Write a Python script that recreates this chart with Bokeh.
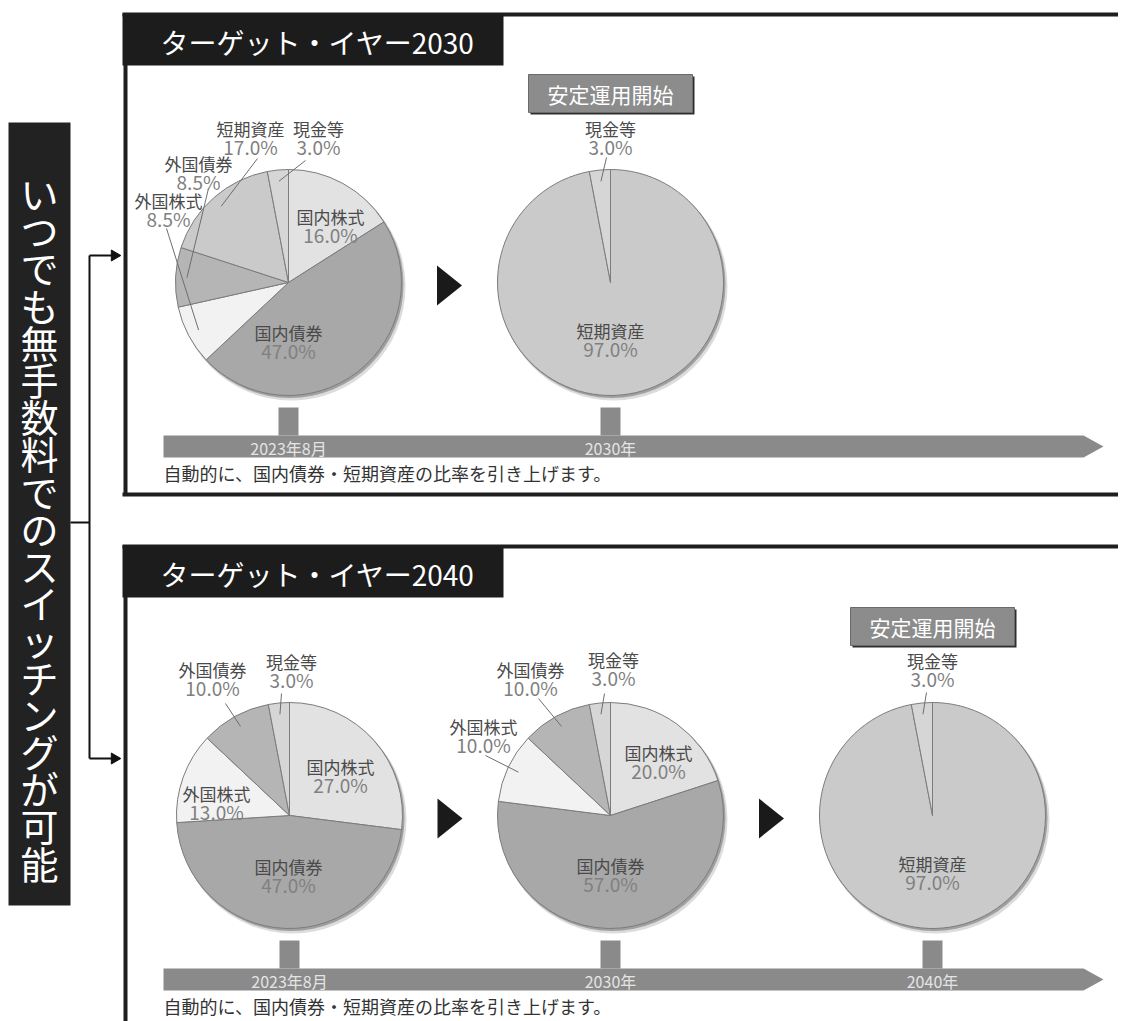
import math
from bokeh.plotting import figure
from bokeh.models import Range1d, ColumnDataSource
from bokeh.core.properties import value
from bokeh.embed import file_html
from bokeh.resources import INLINE

# ---------------- data ----------------
title_2030 = "ターゲット・イヤー2030"
title_2040 = "ターゲット・イヤー2040"
side_label = "いつでも無手数料でのスイッチングが可能"
note_text = "自動的に、国内債券・短期資産の比率を引き上げます。"
badge_text = "安定運用開始"

assets_2030_2023 = ["国内株式", "国内債券", "外国株式", "外国債券", "短期資産", "現金等"]
weights_2030_2023 = [16.0, 47.0, 8.5, 8.5, 17.0, 3.0]
assets_2030_2030 = ["短期資産", "現金等"]
weights_2030_2030 = [97.0, 3.0]

assets_2040_2023 = ["国内株式", "国内債券", "外国株式", "外国債券", "現金等"]
weights_2040_2023 = [27.0, 47.0, 13.0, 10.0, 3.0]
assets_2040_2030 = ["国内株式", "国内債券", "外国株式", "外国債券", "現金等"]
weights_2040_2030 = [20.0, 57.0, 10.0, 10.0, 3.0]
assets_2040_2040 = ["短期資産", "現金等"]
weights_2040_2040 = [97.0, 3.0]

timeline_2030 = ["2023年8月", "2030年"]
timeline_2040 = ["2023年8月", "2030年", "2040年"]

# ---------------- styles / layout ----------------
FONT = value("Noto Sans CJK JP")
ASSET_COLORS = {
    "国内株式": "#e2e2e2",
    "国内債券": "#a8a8a8",
    "外国株式": "#f2f2f2",
    "外国債券": "#b5b5b5",
    "短期資産": "#cacaca",
    "現金等": "#d6d6d6",
}
R = 113
W, H = 1118, 1021


def Y(v):
    return 1021 - v


p = figure(width=W, height=H, x_range=Range1d(0, W), y_range=Range1d(1021 - H, 1021),
           output_backend="svg", toolbar_location=None, x_axis_type=None, y_axis_type=None,
           min_border=0, min_border_left=0, min_border_right=0, min_border_top=0, min_border_bottom=0)
p.outline_line_color = None
p.xgrid.visible = False
p.ygrid.visible = False
p.background_fill_color = "white"
p.border_fill_color = "white"

sections = [
    dict(top=14, bottom=494, title=title_2030, cy=282,
         pies=[dict(cx=288, assets=assets_2030_2023, weights=weights_2030_2023,
                    labels={"国内株式": (42, -66), "国内債券": (0, 50), "短期資産": (-38, -154),
                            "現金等": (30, -154), "外国債券": (-90, -119), "外国株式": (-120, -82)},
                    leaders={"現金等": (17, -122), "短期資産": (-31, -124), "外国債券": (-80, -94),
                             "外国株式": (-122, -54)}),
               dict(cx=610, assets=assets_2030_2030, weights=weights_2030_2030,
                    labels={"現金等": (0, -154), "短期資産": (0, 48)},
                    leaders={"現金等": (-4, -125)}, badge=True)],
         timeline=timeline_2030),
    dict(top=546, bottom=None, title=title_2040, cy=815,
         pies=[dict(cx=289, assets=assets_2040_2023, weights=weights_2040_2023,
                    labels={"外国債券": (-77, -146), "現金等": (2, -154), "国内株式": (51, -49),
                            "外国株式": (-73, -22), "国内債券": (-1, 51)},
                    leaders={"現金等": (-8, -122), "外国債券": (-64, -112)}),
               dict(cx=610, assets=assets_2040_2030, weights=weights_2040_2030,
                    labels={"外国債券": (-80, -146), "現金等": (3, -156), "外国株式": (-127, -89),
                            "国内株式": (48, -63), "国内債券": (0, 50)},
                    leaders={"現金等": (-6, -122), "外国債券": (-72, -117), "外国株式": (-125, -60)}),
               dict(cx=932, assets=assets_2040_2040, weights=weights_2040_2040,
                    labels={"現金等": (0, -155), "短期資産": (0, 48)},
                    leaders={"現金等": (-6, -123)}, badge=True)],
         timeline=timeline_2040),
]

FRAME = "#1e1e1e"

# ---------------- sidebar ----------------
p.quad(left=8, right=70, top=Y(122), bottom=Y(905), fill_color="#222222", line_color=None)
chars = list(side_label)
p.text(x=[39] * len(chars), y=[Y(192 + i * 37.2) for i in range(len(chars))], text=chars,
       text_font=FONT, text_font_size="38px", text_color="white",
       text_align="center", text_baseline="middle")

# bracket
p.segment(x0=[70, 89, 89, 89], y0=[Y(522), Y(255), Y(255), Y(758)],
          x1=[89, 89, 112, 112], y1=[Y(522), Y(758), Y(255), Y(758)], line_color="#111", line_width=2)
p.scatter(x=[114, 114], y=[Y(255), Y(758)], marker="triangle", size=11, angle=-math.pi / 2,
          fill_color="#111", line_color="#111")

for sec in sections:
    top = sec["top"]
    cy = sec["cy"]
    # frame lines
    bottom_img = sec["bottom"] if sec["bottom"] is not None else 1030
    p.segment(x0=[122, 125], y0=[Y(top), Y(top)], x1=[1130, 125], y1=[Y(top), Y(bottom_img)],
              line_color=FRAME, line_width=4)
    if sec["bottom"] is not None:
        p.segment(x0=[122], y0=[Y(sec["bottom"])], x1=[1130], y1=[Y(sec["bottom"])],
                  line_color=FRAME, line_width=4)
    # header box
    p.quad(left=122, right=503, top=Y(top - 1), bottom=Y(top + 51), fill_color="#1c1c1c", line_color=None)
    p.text(x=[160], y=[Y(top + 27)], text=[sec["title"]], text_font=FONT, text_font_size="28px",
           text_color="white", text_align="left", text_baseline="middle")

    pies = sec["pies"]
    # arrows between pies
    for a, b in zip(pies[:-1], pies[1:]):
        xm = (a["cx"] + R + b["cx"] - R) / 2
        p.patch(x=[xm - 12.5, xm - 12.5, xm + 12.5], y=[Y(cy - 17), Y(cy + 23), Y(cy + 3)],
                fill_color="#1a1a1a", line_color=None)

    # timeline bar
    bt, bb = cy + 153, cy + 175
    p.patch(x=[163, 1083, 1103, 1083, 163], y=[Y(bt), Y(bt), Y((bt + bb) / 2), Y(bb), Y(bb)],
            fill_color="#8a8a8a", line_color=None)
    for pie, lab in zip(pies, sec["timeline"]):
        p.quad(left=pie["cx"] - 10, right=pie["cx"] + 10, top=Y(cy + 125), bottom=Y(bt),
               fill_color="#8a8a8a", line_color=None)
        p.text(x=[pie["cx"]], y=[Y((bt + bb) / 2 + 1)], text=[lab], text_font=FONT,
               text_font_size="16px", text_color="#e4e4e4", text_align="center", text_baseline="middle")
    p.text(x=[163], y=[Y(bb + 15)], text=[note_text], text_font=FONT, text_font_size="18px",
           text_color="#333333", text_align="left", text_baseline="middle")

    for pie in pies:
        cx = pie["cx"]
        total = sum(pie["weights"])
        cum = 0.0
        starts, ends, cols, mids = [], [], [], {}
        for a, w in zip(pie["assets"], pie["weights"]):
            f0 = cum / total
            cum += w
            f1 = cum / total
            starts.append(math.pi / 2 - 2 * math.pi * f1)
            ends.append(math.pi / 2 - 2 * math.pi * f0)
            cols.append(ASSET_COLORS[a])
            mids[a] = (f0 + f1) / 2
        # shadow
        p.circle(x=cx + 3, y=Y(cy + 4), radius=R + 1, fill_color="#9a9a9a", fill_alpha=0.35, line_color=None)
        p.circle(x=cx + 1.5, y=Y(cy + 2), radius=R + 0.5, fill_color="#707070", fill_alpha=0.55, line_color=None)
        src = ColumnDataSource(dict(start=starts, end=ends, color=cols))
        p.wedge(x=cx, y=Y(cy), radius=R, start_angle="start", end_angle="end", fill_color="color",
                line_color="#7c7c7c", line_width=1, source=src)
        # leaders
        x0s, y0s, x1s, y1s = [], [], [], []
        for a, (lx, ly) in pie["leaders"].items():
            th = 2 * math.pi * mids[a]
            x0s.append(cx + 0.9 * R * math.sin(th))
            y0s.append(Y(cy - 0.9 * R * math.cos(th)))
            x1s.append(cx + lx)
            y1s.append(Y(cy + ly))
        p.segment(x0=x0s, y0=y0s, x1=x1s, y1=y1s, line_color="#6e6e6e", line_width=1)
        # labels
        nx, ny, nt, px_, py_, pt = [], [], [], [], [], []
        for a, w in zip(pie["assets"], pie["weights"]):
            dx, dy = pie["labels"][a]
            nx.append(cx + dx); ny.append(Y(cy + dy)); nt.append(a)
            px_.append(cx + dx); py_.append(Y(cy + dy + 18)); pt.append(f"{w:.1f}%")
        p.text(x=nx, y=ny, text=nt, text_font=FONT, text_font_size="17px", text_color="#4a4a4a",
               text_align="center", text_baseline="middle")
        p.text(x=px_, y=py_, text=pt, text_font=FONT, text_font_size="19px", text_color="#808080",
               text_align="center", text_baseline="middle")
        if pie.get("badge"):
            bcy = cy - 189
            p.quad(left=cx - 80, right=cx + 84, top=Y(bcy - 17), bottom=Y(bcy + 21),
                   fill_color="#2e2e2e", line_color=None)
            p.quad(left=cx - 82, right=cx + 82, top=Y(bcy - 19), bottom=Y(bcy + 19),
                   fill_color="#8c8c8c", line_color="#6a6a6a", line_width=1)
            p.text(x=[cx], y=[Y(bcy)], text=[badge_text], text_font=FONT, text_font_size="21px",
                   text_color="white", text_align="center", text_baseline="middle")

open("out.html", "w").write(file_html(p, INLINE))
